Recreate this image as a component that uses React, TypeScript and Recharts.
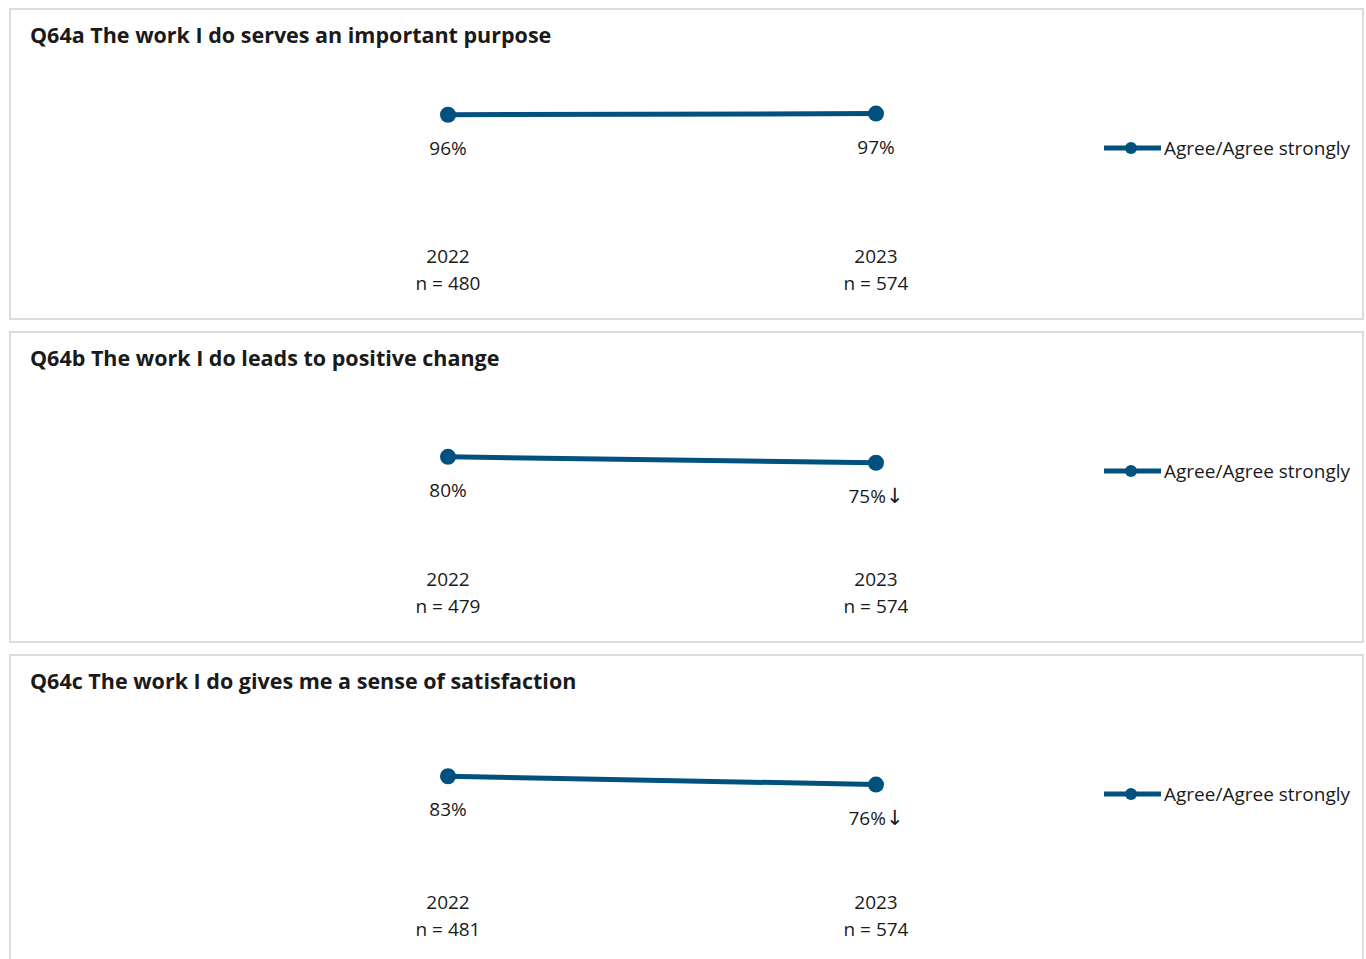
import { LineChart, Line, XAxis, YAxis, LabelList } from 'recharts';

const years = ['2022', '2023'];
const titles = [
  'Q64a The work I do serves an important purpose',
  'Q64b The work I do leads to positive change',
  'Q64c The work I do gives me a sense of satisfaction',
];
const agreeA = [96, 97];
const agreeB = [80, 75];
const agreeC = [83, 76];
const sampleA = [480, 574];
const sampleB = [479, 574];
const sampleC = [481, 574];
const marksA = ['', ''];
const marksB = ['', '↓'];
const marksC = ['', '↓'];

const BLUE = '#01517f';
const FONT = '"Open Sans", "Noto Sans", sans-serif';
const TEXT = '#1a1a1a';

interface PanelProps {
  title: string;
  values: number[];
  samples: number[];
  marks: string[];
}

function YearTick(props: any) {
  const { x, y, payload, samples } = props;
  const n = samples[payload.index];
  return (
    <g>
      <text x={x} y={y + 27} textAnchor="middle" dominantBaseline="central" fontSize={19} fill={TEXT} fontFamily={FONT}>
        {payload.value}
      </text>
      <text x={x} y={y + 54} textAnchor="middle" dominantBaseline="central" fontSize={19} fill={TEXT} fontFamily={FONT}>
        n = {n}
      </text>
    </g>
  );
}

function ValueLabel(props: any) {
  const { x, y, value, index, marks } = props;
  const mark = marks[index];
  return (
    <text x={x} y={y + 33} textAnchor="middle" dominantBaseline="central" fontSize={19} fill={TEXT} fontFamily={FONT}>
      {value}%
      {mark ? <tspan fontFamily='"DejaVu Sans", sans-serif' fontSize={21}>{mark}</tspan> : null}
    </text>
  );
}

function LegendBox() {
  return (
    <div
      style={{
        position: 'absolute',
        left: 1092,
        top: 125,
        display: 'flex',
        alignItems: 'center',
        fontFamily: FONT,
        fontSize: 19,
        color: TEXT,
        whiteSpace: 'nowrap',
      }}
    >
      <svg width={60} height={18}>
        <line x1={1} y1={9} x2={58} y2={9} stroke={BLUE} strokeWidth={5} />
        <circle cx={28} cy={9} r={6} fill={BLUE} />
      </svg>
      <span style={{ marginLeft: 1 }}>Agree/Agree strongly</span>
    </div>
  );
}

function Panel({ title, values, samples, marks }: PanelProps) {
  const data = years.map((year, i) => ({ year, value: values[i] }));
  return (
    <div
      style={{
        position: 'relative',
        marginBottom: 11,
        width: 1355,
        height: 312,
        boxSizing: 'border-box',
        border: '2px solid #dcdcdc',
        background: '#fff',
      }}
    >
      <div
        style={{
          position: 'absolute',
          left: 19,
          top: 10,
          fontFamily: FONT,
          fontWeight: 700,
          fontSize: 21.5,
          color: TEXT,
          whiteSpace: 'nowrap',
        }}
      >
        {title}
      </div>
      <LegendBox />
      <LineChart width={1351} height={308} data={data} margin={{ top: 100, right: 486, bottom: 9, left: 437 }}>
        <XAxis
          dataKey="year"
          axisLine={false}
          tickLine={false}
          tickSize={0}
          tickMargin={0}
          height={80}
          interval={0}
          tick={<YearTick samples={samples} />}
        />
        <YAxis hide domain={[0, 100]} />
        <Line
          dataKey="value"
          name="Agree/Agree strongly"
          stroke={BLUE}
          strokeWidth={5}
          dot={{ r: 8, fill: BLUE, stroke: BLUE, strokeWidth: 0 }}
          isAnimationActive={false}
        >
          <LabelList dataKey="value" content={<ValueLabel marks={marks} />} />
        </Line>
      </LineChart>
    </div>
  );
}

export default function App() {
  return (
    <div
      style={{
        position: 'fixed',
        left: 0,
        top: 0,
        width: 1366,
        height: 959,
        overflow: 'hidden',
        background: '#fff',
        boxSizing: 'border-box',
        paddingLeft: 9,
        paddingTop: 8,
      }}
    >
      <Panel title={titles[0]} values={agreeA} samples={sampleA} marks={marksA} />
      <Panel title={titles[1]} values={agreeB} samples={sampleB} marks={marksB} />
      <Panel title={titles[2]} values={agreeC} samples={sampleC} marks={marksC} />
    </div>
  );
}
